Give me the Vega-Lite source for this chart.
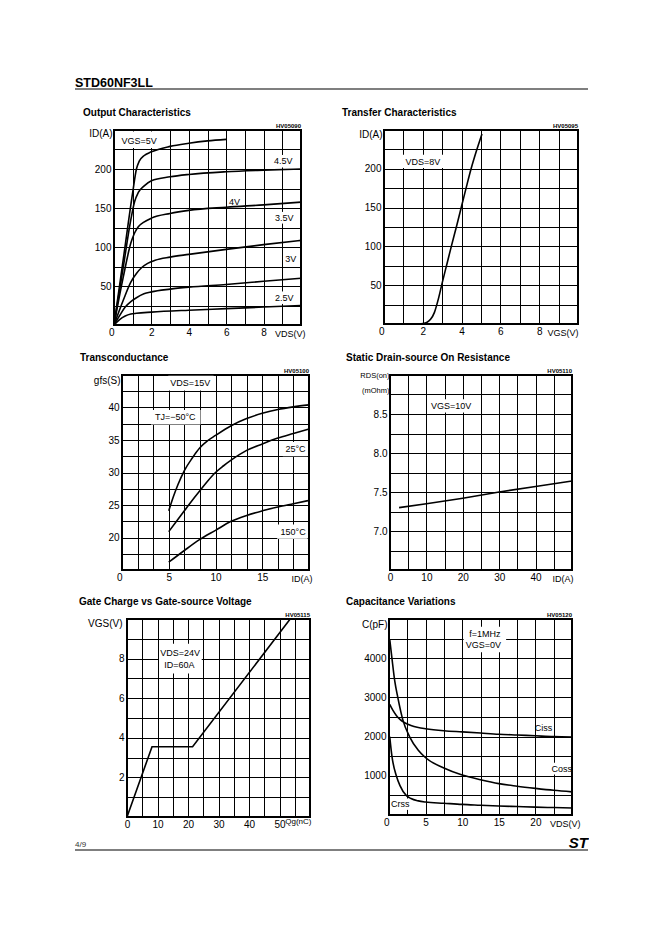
{
  "$schema": "https://vega.github.io/schema/vega-lite/v6.json",
  "padding": {"top": 75, "left": 0, "right": 0, "bottom": 0},
  "background": "white",
  "spacing": 0,
  "bounds": "full",
  "datasets": {
    "hdrRule": [{"x": 0, "x2": 1, "y": 0}],
    "hdrText": [{"x": 0, "y": 0.16, "t": "STD60NF3LL"}],
    "ftrRule": [{"x": 0, "x2": 1, "y": 0}],
    "ftrText": [{"x": 0, "y": 0.2, "t": "4/9"}],
    "ftrLogo": [{"x": 1, "y": 0.15, "t": "ST"}],
    "p1": [
      {"x": 0, "y": 0, "s": "5V"}, {"x": 0.5, "y": 85, "s": "5V"}, {"x": 1, "y": 170, "s": "5V"}, {"x": 1.2, "y": 200, "s": "5V"}, {"x": 1.35, "y": 210, "s": "5V"}, {"x": 1.6, "y": 217, "s": "5V"}, {"x": 2, "y": 222, "s": "5V"}, {"x": 3, "y": 229, "s": "5V"}, {"x": 4, "y": 233, "s": "5V"}, {"x": 5, "y": 236, "s": "5V"}, {"x": 6, "y": 238, "s": "5V"},
      {"x": 0, "y": 0, "s": "4.5V"}, {"x": 0.5, "y": 75, "s": "4.5V"}, {"x": 0.9, "y": 135, "s": "4.5V"}, {"x": 1.1, "y": 158, "s": "4.5V"}, {"x": 1.3, "y": 170, "s": "4.5V"}, {"x": 1.6, "y": 178, "s": "4.5V"}, {"x": 2, "y": 185, "s": "4.5V"}, {"x": 3, "y": 190, "s": "4.5V"}, {"x": 4, "y": 193, "s": "4.5V"}, {"x": 6, "y": 196.5, "s": "4.5V"}, {"x": 8, "y": 198.5, "s": "4.5V"}, {"x": 10, "y": 200, "s": "4.5V"},
      {"x": 0, "y": 0, "s": "4V"}, {"x": 0.5, "y": 62, "s": "4V"}, {"x": 0.9, "y": 105, "s": "4V"}, {"x": 1.1, "y": 118, "s": "4V"}, {"x": 1.3, "y": 126, "s": "4V"}, {"x": 1.6, "y": 132, "s": "4V"}, {"x": 2, "y": 137, "s": "4V"}, {"x": 3, "y": 143, "s": "4V"}, {"x": 4, "y": 147, "s": "4V"}, {"x": 6, "y": 151, "s": "4V"}, {"x": 8, "y": 154, "s": "4V"}, {"x": 10, "y": 157.5, "s": "4V"},
      {"x": 0, "y": 0, "s": "3.5V"}, {"x": 0.5, "y": 32, "s": "3.5V"}, {"x": 0.9, "y": 55, "s": "3.5V"}, {"x": 1.2, "y": 66, "s": "3.5V"}, {"x": 1.5, "y": 74, "s": "3.5V"}, {"x": 1.8, "y": 79, "s": "3.5V"}, {"x": 2.2, "y": 83, "s": "3.5V"}, {"x": 3, "y": 87, "s": "3.5V"}, {"x": 4, "y": 90.5, "s": "3.5V"}, {"x": 6, "y": 97, "s": "3.5V"}, {"x": 8, "y": 103, "s": "3.5V"}, {"x": 10, "y": 108.5, "s": "3.5V"},
      {"x": 0, "y": 0, "s": "3V"}, {"x": 0.3, "y": 12, "s": "3V"}, {"x": 0.6, "y": 23, "s": "3V"}, {"x": 0.9, "y": 30, "s": "3V"}, {"x": 1.2, "y": 35, "s": "3V"}, {"x": 1.6, "y": 40, "s": "3V"}, {"x": 2, "y": 42.5, "s": "3V"}, {"x": 3, "y": 46, "s": "3V"}, {"x": 4, "y": 48.5, "s": "3V"}, {"x": 6, "y": 52, "s": "3V"}, {"x": 8, "y": 56, "s": "3V"}, {"x": 10, "y": 60, "s": "3V"},
      {"x": 0, "y": 0, "s": "2.5V"}, {"x": 0.3, "y": 7, "s": "2.5V"}, {"x": 0.6, "y": 11.5, "s": "2.5V"}, {"x": 0.9, "y": 14, "s": "2.5V"}, {"x": 1.2, "y": 15, "s": "2.5V"}, {"x": 2, "y": 16.5, "s": "2.5V"}, {"x": 4, "y": 19, "s": "2.5V"}, {"x": 6, "y": 21, "s": "2.5V"}, {"x": 8, "y": 23, "s": "2.5V"}, {"x": 10, "y": 25, "s": "2.5V"}
    ],
    "p1mask": [
      {"x": 0.15, "x2": 2.9, "y": 227, "y2": 248},
      {"x": 8.4, "x2": 9.7, "y": 202, "y2": 218},
      {"x": 6.1, "x2": 6.8, "y": 153, "y2": 165},
      {"x": 8.45, "x2": 9.75, "y": 130, "y2": 145},
      {"x": 9.1, "x2": 9.85, "y": 76, "y2": 92},
      {"x": 8.45, "x2": 9.75, "y": 27, "y2": 43}
    ],
    "p1lab": [
      {"x": 1.35, "y": 236, "t": "VGS=5V"},
      {"x": 9.05, "y": 210, "t": "4.5V"},
      {"x": 6.45, "y": 158, "t": "4V"},
      {"x": 9.1, "y": 137.5, "t": "3.5V"},
      {"x": 9.45, "y": 84, "t": "3V"},
      {"x": 9.1, "y": 35, "t": "2.5V"}
    ],
    "p1hv": [{"x": 10, "y": 250, "t": "HV05090"}],
    "p2": [
      {"x": 1.8, "y": 0}, {"x": 2, "y": 0.5}, {"x": 2.2, "y": 2}, {"x": 2.4, "y": 6}, {"x": 2.6, "y": 15}, {"x": 2.8, "y": 32}, {"x": 3, "y": 53}, {"x": 3.25, "y": 78}, {"x": 3.5, "y": 103}, {"x": 3.75, "y": 127}, {"x": 4, "y": 152}, {"x": 4.25, "y": 177}, {"x": 4.5, "y": 201}, {"x": 4.75, "y": 222}, {"x": 5.05, "y": 245}
    ],
    "p2mask": [{"x": 0.9, "x2": 3.05, "y": 201, "y2": 218}],
    "p2lab": [{"x": 2.0, "y": 209, "t": "VDS=8V"}],
    "p2hv": [{"x": 10, "y": 250, "t": "HV05095"}],
    "p3": [
      {"x": 5, "y": 24.1, "s": "-50"}, {"x": 5.5, "y": 26.3, "s": "-50"}, {"x": 6, "y": 28.2, "s": "-50"}, {"x": 6.67, "y": 30.3, "s": "-50"}, {"x": 7.5, "y": 32.2, "s": "-50"}, {"x": 8.33, "y": 33.8, "s": "-50"}, {"x": 9.17, "y": 34.9, "s": "-50"}, {"x": 10, "y": 35.7, "s": "-50"}, {"x": 11.67, "y": 37.2, "s": "-50"}, {"x": 13.33, "y": 38.3, "s": "-50"}, {"x": 15, "y": 39.1, "s": "-50"}, {"x": 16.67, "y": 39.7, "s": "-50"}, {"x": 18.33, "y": 40.1, "s": "-50"}, {"x": 20, "y": 40.4, "s": "-50"},
      {"x": 5, "y": 20.9, "s": "25"}, {"x": 5.83, "y": 22.5, "s": "25"}, {"x": 6.67, "y": 24.1, "s": "25"}, {"x": 7.5, "y": 25.7, "s": "25"}, {"x": 8.33, "y": 27.2, "s": "25"}, {"x": 9.17, "y": 28.7, "s": "25"}, {"x": 10, "y": 30, "s": "25"}, {"x": 10.83, "y": 31, "s": "25"}, {"x": 11.67, "y": 31.9, "s": "25"}, {"x": 13.33, "y": 33.4, "s": "25"}, {"x": 15, "y": 34.4, "s": "25"}, {"x": 16.67, "y": 35.3, "s": "25"}, {"x": 18.33, "y": 36, "s": "25"}, {"x": 20, "y": 36.7, "s": "25"},
      {"x": 5, "y": 16.2, "s": "150"}, {"x": 6.67, "y": 18, "s": "150"}, {"x": 8.33, "y": 19.7, "s": "150"}, {"x": 10, "y": 21.1, "s": "150"}, {"x": 11.67, "y": 22.5, "s": "150"}, {"x": 13.33, "y": 23.4, "s": "150"}, {"x": 15, "y": 24.1, "s": "150"}, {"x": 16.67, "y": 24.7, "s": "150"}, {"x": 18.33, "y": 25.2, "s": "150"}, {"x": 20, "y": 25.7, "s": "150"}
    ],
    "p3mask": [
      {"x": 4.95, "x2": 9.8, "y": 42.6, "y2": 44.9},
      {"x": 3.1, "x2": 8.4, "y": 37.4, "y2": 39.6},
      {"x": 17.2, "x2": 19.85, "y": 32.5, "y2": 34.7},
      {"x": 16.6, "x2": 19.85, "y": 19.8, "y2": 22.0}
    ],
    "p3lab": [
      {"x": 7.3, "y": 43.8, "t": "VDS=15V"},
      {"x": 5.7, "y": 38.5, "t": "TJ=−50°C"},
      {"x": 18.55, "y": 33.6, "t": "25°C"},
      {"x": 18.3, "y": 20.9, "t": "150°C"}
    ],
    "p3hv": [{"x": 20, "y": 45, "t": "HV05100"}],
    "p4": [
      {"x": 2.5, "y": 7.3}, {"x": 10, "y": 7.35}, {"x": 20, "y": 7.42}, {"x": 30, "y": 7.5}, {"x": 40, "y": 7.57}, {"x": 50, "y": 7.64}
    ],
    "p4mask": [{"x": 11, "x2": 22.6, "y": 8.52, "y2": 8.69}],
    "p4lab": [{"x": 16.8, "y": 8.6, "t": "VGS=10V"}],
    "p4hv": [{"x": 50, "y": 9, "t": "HV05110"}],
    "p5": [
      {"x": 0, "y": 0}, {"x": 8.2, "y": 3.55}, {"x": 21.5, "y": 3.55}, {"x": 53.5, "y": 10}
    ],
    "p5mask": [{"x": 10.5, "x2": 24.5, "y": 7.25, "y2": 8.75}],
    "p5lab": [{"x": 17.4, "y": 8.28, "t": "VDS=24V"}, {"x": 17.2, "y": 7.68, "t": "ID=60A"}],
    "p5hv": [{"x": 60, "y": 10, "t": "HV05115"}],
    "p6": [
      {"x": 0.1, "y": 2820, "s": "Ciss"}, {"x": 0.5, "y": 2680, "s": "Ciss"}, {"x": 1, "y": 2540, "s": "Ciss"}, {"x": 1.5, "y": 2440, "s": "Ciss"}, {"x": 2, "y": 2370, "s": "Ciss"}, {"x": 2.5, "y": 2320, "s": "Ciss"}, {"x": 3, "y": 2280, "s": "Ciss"}, {"x": 4, "y": 2230, "s": "Ciss"}, {"x": 5, "y": 2200, "s": "Ciss"}, {"x": 7.5, "y": 2150, "s": "Ciss"}, {"x": 10, "y": 2120, "s": "Ciss"}, {"x": 12.5, "y": 2090, "s": "Ciss"}, {"x": 15, "y": 2060, "s": "Ciss"}, {"x": 17.5, "y": 2040, "s": "Ciss"}, {"x": 20, "y": 2020, "s": "Ciss"}, {"x": 22.5, "y": 2000, "s": "Ciss"}, {"x": 25, "y": 1990, "s": "Ciss"},
      {"x": 0.1, "y": 4480, "s": "Coss"}, {"x": 0.4, "y": 4000, "s": "Coss"}, {"x": 0.8, "y": 3400, "s": "Coss"}, {"x": 1.2, "y": 3000, "s": "Coss"}, {"x": 1.9, "y": 2420, "s": "Coss"}, {"x": 2.8, "y": 2000, "s": "Coss"}, {"x": 4, "y": 1650, "s": "Coss"}, {"x": 5, "y": 1460, "s": "Coss"}, {"x": 7.5, "y": 1200, "s": "Coss"}, {"x": 10, "y": 1020, "s": "Coss"}, {"x": 12.5, "y": 900, "s": "Coss"}, {"x": 15, "y": 800, "s": "Coss"}, {"x": 17.5, "y": 735, "s": "Coss"}, {"x": 20, "y": 680, "s": "Coss"}, {"x": 22.5, "y": 630, "s": "Coss"}, {"x": 25, "y": 590, "s": "Coss"},
      {"x": 0.1, "y": 2000, "s": "Crss"}, {"x": 0.4, "y": 1500, "s": "Crss"}, {"x": 1, "y": 1000, "s": "Crss"}, {"x": 1.5, "y": 750, "s": "Crss"}, {"x": 2.35, "y": 500, "s": "Crss"}, {"x": 3, "y": 420, "s": "Crss"}, {"x": 4, "y": 360, "s": "Crss"}, {"x": 5, "y": 330, "s": "Crss"}, {"x": 7.5, "y": 300, "s": "Crss"}, {"x": 10, "y": 270, "s": "Crss"}, {"x": 12.5, "y": 250, "s": "Crss"}, {"x": 15, "y": 230, "s": "Crss"}, {"x": 17.5, "y": 215, "s": "Crss"}, {"x": 20, "y": 200, "s": "Crss"}, {"x": 22.5, "y": 190, "s": "Crss"}, {"x": 25, "y": 180, "s": "Crss"}
    ],
    "p6mask": [
      {"x": 10.2, "x2": 16.0, "y": 4150, "y2": 4800},
      {"x": 20.3, "x2": 22.0, "y": 2100, "y2": 2380},
      {"x": 22.4, "x2": 24.8, "y": 1030, "y2": 1330},
      {"x": 0.5, "x2": 2.6, "y": 130, "y2": 420}
    ],
    "p6lab": [
      {"x": 13.1, "y": 4608, "t": "f=1MHz"},
      {"x": 12.9, "y": 4339, "t": "VGS=0V"},
      {"x": 21.1, "y": 2230, "t": "Ciss"},
      {"x": 23.6, "y": 1180, "t": "Coss"},
      {"x": 1.55, "y": 270, "t": "Crss"}
    ],
    "p6hv": [{"x": 25, "y": 5000, "t": "HV05120"}]
  },
  "vconcat": [
    {
      "spacing": 0, "bounds": "flush",
      "hconcat": [
        {"width": 75, "height": 32, "data": {"values": []}, "mark": "point"},
        {
          "width": 513, "height": 14,
          "encoding": {
            "x": {"field": "x", "type": "quantitative", "scale": {"domain": [0, 1]}, "axis": null},
            "y": {"field": "y", "type": "quantitative", "scale": {"domain": [0, 1]}, "axis": null}
          },
          "layer": [
            {"data": {"name": "hdrRule"}, "mark": {"type": "rule", "strokeWidth": 1.2, "color": "#000"}, "encoding": {"x2": {"field": "x2"}}},
            {"data": {"name": "hdrText"}, "mark": {"type": "text", "align": "left", "baseline": "alphabetic", "fontSize": 12.5, "fontWeight": "bold"}, "encoding": {"text": {"field": "t"}}}
          ]
        }
      ]
    },
    {
      "spacing": 0, "bounds": "flush",
      "hconcat": [
        {"width": 114, "height": 222, "data": {"values": []}, "mark": "point"},
        {
          "width": 187, "height": 195,
          "view": {"stroke": "#000", "strokeWidth": 2},
          "title": {"text": "Output Characteristics", "dx": -31},
          "encoding": {
            "x": {"field": "x", "type": "quantitative", "scale": {"domain": [0, 10], "nice": false, "zero": false},
              "axis": {"values": [0, 1, 2, 3, 4, 5, 6, 7, 8, 9, 10], "labelExpr": "(datum.value % 2 == 0 && datum.value < 10) ? datum.label : ''", "labelAlign": {"condition": {"test": "datum.value == 0", "value": "right"}, "value": "center"}, "title": "VDS(V)", "titleX": 191}},
            "y": {"field": "y", "type": "quantitative", "scale": {"domain": [0, 250], "nice": false, "zero": false},
              "axis": {"values": [0, 25, 50, 75, 100, 125, 150, 175, 200, 225, 250], "labelExpr": "(datum.value % 50 == 0 && datum.value > 0 && datum.value < 250) ? datum.label : ''", "title": "ID(A)", "titleY": 3}}
          },
          "layer": [
            {"data": {"name": "p1mask"}, "mark": {"type": "rect", "fill": "white"}, "encoding": {"x2": {"field": "x2"}, "y2": {"field": "y2"}}},
            {"data": {"name": "p1"}, "mark": {"type": "line"}, "encoding": {"detail": {"field": "s", "type": "nominal"}}},
            {"data": {"name": "p1lab"}, "mark": {"type": "text", "fontSize": 9}, "encoding": {"text": {"field": "t"}}},
            {"data": {"name": "p1hv"}, "mark": {"type": "text", "align": "right", "baseline": "bottom", "dy": -1, "fontSize": 6, "fontWeight": "bold"}, "encoding": {"text": {"field": "t"}}}
          ]
        },
        {"width": 83, "height": 1, "data": {"values": []}, "mark": "point"},
        {
          "width": 194, "height": 194,
          "view": {"stroke": "#000", "strokeWidth": 2},
          "title": {"text": "Transfer Characteristics", "dx": -42},
          "encoding": {
            "x": {"field": "x", "type": "quantitative", "scale": {"domain": [0, 10], "nice": false, "zero": false},
              "axis": {"values": [0, 1, 2, 3, 4, 5, 6, 7, 8, 9, 10], "labelExpr": "(datum.value % 2 == 0 && datum.value < 10) ? datum.label : ''", "labelAlign": {"condition": {"test": "datum.value == 0", "value": "right"}, "value": "center"}, "title": "VGS(V)", "titleX": 194}},
            "y": {"field": "y", "type": "quantitative", "scale": {"domain": [0, 250], "nice": false, "zero": false},
              "axis": {"values": [0, 25, 50, 75, 100, 125, 150, 175, 200, 225, 250], "labelExpr": "(datum.value % 50 == 0 && datum.value > 0 && datum.value < 250) ? datum.label : ''", "title": "ID(A)", "titleY": 4}}
          },
          "layer": [
            {"data": {"name": "p2mask"}, "mark": {"type": "rect", "fill": "white"}, "encoding": {"x2": {"field": "x2"}, "y2": {"field": "y2"}}},
            {"data": {"name": "p2"}, "mark": {"type": "line"}, "encoding": {}},
            {"data": {"name": "p2lab"}, "mark": {"type": "text", "fontSize": 9}, "encoding": {"text": {"field": "t"}}},
            {"data": {"name": "p2hv"}, "mark": {"type": "text", "align": "right", "baseline": "bottom", "dy": -1, "fontSize": 6, "fontWeight": "bold"}, "encoding": {"text": {"field": "t"}}}
          ]
        }
      ]
    },
    {
      "spacing": 0, "bounds": "flush",
      "hconcat": [
        {"width": 122, "height": 221, "data": {"values": []}, "mark": "point"},
        {
          "width": 187, "height": 195,
          "view": {"stroke": "#000", "strokeWidth": 2},
          "title": {"text": "Transconductance", "dx": -42},
          "encoding": {
            "x": {"field": "x", "type": "quantitative", "scale": {"domain": [0, 20], "nice": false, "zero": false},
              "axis": {"values": [0, 1.6667, 3.3333, 5, 6.6667, 8.3333, 10, 11.6667, 13.3333, 15, 16.6667, 18.3333, 20], "labelExpr": "(datum.value == 0 || datum.value == 5 || datum.value == 10 || datum.value == 15) ? datum.label : ''", "labelAlign": {"condition": {"test": "datum.value == 0", "value": "right"}, "value": "center"}, "title": "ID(A)", "titleX": 190}},
            "y": {"field": "y", "type": "quantitative", "scale": {"domain": [15, 45], "nice": false, "zero": false},
              "axis": {"values": [15, 17.5, 20, 22.5, 25, 27.5, 30, 32.5, 35, 37.5, 40, 42.5, 45], "labelExpr": "(datum.value % 5 == 0 && datum.value > 16 && datum.value < 44) ? datum.label : ''", "title": "gfs(S)", "titleY": 5}}
          },
          "layer": [
            {"data": {"name": "p3mask"}, "mark": {"type": "rect", "fill": "white"}, "encoding": {"x2": {"field": "x2"}, "y2": {"field": "y2"}}},
            {"data": {"name": "p3"}, "mark": {"type": "line"}, "encoding": {"detail": {"field": "s", "type": "nominal"}}},
            {"data": {"name": "p3lab"}, "mark": {"type": "text", "fontSize": 9}, "encoding": {"text": {"field": "t"}}},
            {"data": {"name": "p3hv"}, "mark": {"type": "text", "align": "right", "baseline": "bottom", "dy": -1, "fontSize": 6, "fontWeight": "bold"}, "encoding": {"text": {"field": "t"}}}
          ]
        },
        {"width": 81, "height": 1, "data": {"values": []}, "mark": "point"},
        {
          "width": 182, "height": 195,
          "view": {"stroke": "#000", "strokeWidth": 2},
          "title": {"text": "Static Drain-source On Resistance", "dx": -44},
          "encoding": {
            "x": {"field": "x", "type": "quantitative", "scale": {"domain": [0, 50], "nice": false, "zero": false},
              "axis": {"values": [0, 5, 10, 15, 20, 25, 30, 35, 40, 45, 50], "labelExpr": "(datum.value % 10 == 0 && datum.value < 45) ? datum.label : ''", "title": "ID(A)", "titleX": 183}},
            "y": {"field": "y", "type": "quantitative", "scale": {"domain": [6.5, 9], "nice": false, "zero": false},
              "axis": {"values": [6.5, 6.75, 7, 7.25, 7.5, 7.75, 8, 8.25, 8.5, 8.75, 9], "labelExpr": "(datum.value == 7 || datum.value == 7.5 || datum.value == 8 || datum.value == 8.5) ? format(datum.value, '.1f') : ''", "title": ["RDS(on)", "(mOhm)"], "titleFontSize": 7.5, "titleLineHeight": 15, "titleBaseline": "top", "titleY": -4, "titleX": -1}}
          },
          "layer": [
            {"data": {"name": "p4mask"}, "mark": {"type": "rect", "fill": "white"}, "encoding": {"x2": {"field": "x2"}, "y2": {"field": "y2"}}},
            {"data": {"name": "p4"}, "mark": {"type": "line", "interpolate": "linear"}, "encoding": {}},
            {"data": {"name": "p4lab"}, "mark": {"type": "text", "fontSize": 9}, "encoding": {"text": {"field": "t"}}},
            {"data": {"name": "p4hv"}, "mark": {"type": "text", "align": "right", "baseline": "bottom", "dy": -1, "fontSize": 6, "fontWeight": "bold"}, "encoding": {"text": {"field": "t"}}}
          ]
        }
      ]
    },
    {
      "spacing": 0, "bounds": "flush",
      "hconcat": [
        {"width": 127, "height": 216, "data": {"values": []}, "mark": "point"},
        {
          "width": 183, "height": 198,
          "view": {"stroke": "#000", "strokeWidth": 2},
          "title": {"text": "Gate Charge vs Gate-source Voltage", "dx": -48},
          "encoding": {
            "x": {"field": "x", "type": "quantitative", "scale": {"domain": [0, 60], "nice": false, "zero": false},
              "axis": {"values": [0, 5, 10, 15, 20, 25, 30, 35, 40, 45, 50, 55, 60], "labelExpr": "(datum.value % 10 == 0 && datum.value < 55) ? datum.label : ''", "title": "Qg(nC)", "titleFontSize": 8, "titleX": 184, "titleY": 4}},
            "y": {"field": "y", "type": "quantitative", "scale": {"domain": [0, 10], "nice": false, "zero": false},
              "axis": {"values": [0, 1, 2, 3, 4, 5, 6, 7, 8, 9, 10], "labelExpr": "(datum.value % 2 == 0 && datum.value > 0 && datum.value < 10) ? datum.label : ''", "title": "VGS(V)", "titleY": 4, "titleX": -5}}
          },
          "layer": [
            {"data": {"name": "p5mask"}, "mark": {"type": "rect", "fill": "white"}, "encoding": {"x2": {"field": "x2"}, "y2": {"field": "y2"}}},
            {"data": {"name": "p5"}, "mark": {"type": "line", "interpolate": "linear"}, "encoding": {}},
            {"data": {"name": "p5lab"}, "mark": {"type": "text", "fontSize": 9}, "encoding": {"text": {"field": "t"}}},
            {"data": {"name": "p5hv"}, "mark": {"type": "text", "align": "right", "baseline": "bottom", "dy": -1, "fontSize": 6, "fontWeight": "bold"}, "encoding": {"text": {"field": "t"}}}
          ]
        },
        {"width": 79, "height": 1, "data": {"values": []}, "mark": "point"},
        {
          "width": 183, "height": 196,
          "view": {"stroke": "#000", "strokeWidth": 2},
          "title": {"text": "Capacitance Variations", "dx": -43},
          "encoding": {
            "x": {"field": "x", "type": "quantitative", "scale": {"domain": [0, 25], "nice": false, "zero": false},
              "axis": {"values": [0, 2.5, 5, 7.5, 10, 12.5, 15, 17.5, 20, 22.5, 25], "labelExpr": "(datum.value % 5 == 0 && datum.value < 24) ? datum.label : ''", "labelAlign": {"condition": {"test": "datum.value == 0", "value": "right"}, "value": "center"}, "title": "VDS(V)", "titleX": 191}},
            "y": {"field": "y", "type": "quantitative", "scale": {"domain": [0, 5000], "nice": false, "zero": false},
              "axis": {"values": [0, 500, 1000, 1500, 2000, 2500, 3000, 3500, 4000, 4500, 5000], "labelExpr": "(datum.value % 1000 == 0 && datum.value > 0 && datum.value < 5000) ? format(datum.value, 'd') : ''", "title": "C(pF)", "titleY": 5}}
          },
          "layer": [
            {"data": {"name": "p6mask"}, "mark": {"type": "rect", "fill": "white"}, "encoding": {"x2": {"field": "x2"}, "y2": {"field": "y2"}}},
            {"data": {"name": "p6"}, "mark": {"type": "line"}, "encoding": {"detail": {"field": "s", "type": "nominal"}}},
            {"data": {"name": "p6lab"}, "mark": {"type": "text", "fontSize": 9}, "encoding": {"text": {"field": "t"}}},
            {"data": {"name": "p6hv"}, "mark": {"type": "text", "align": "right", "baseline": "bottom", "dy": -1, "fontSize": 6, "fontWeight": "bold"}, "encoding": {"text": {"field": "t"}}}
          ]
        }
      ]
    },
    {
      "spacing": 0, "bounds": "flush",
      "hconcat": [
        {"width": 75, "height": 14, "data": {"values": []}, "mark": "point"},
        {
          "width": 513, "height": 14,
          "encoding": {
            "x": {"field": "x", "type": "quantitative", "scale": {"domain": [0, 1]}, "axis": null},
            "y": {"field": "y", "type": "quantitative", "scale": {"domain": [0, 1]}, "axis": null}
          },
          "layer": [
            {"data": {"name": "ftrRule"}, "mark": {"type": "rule", "strokeWidth": 1.2, "color": "#000"}, "encoding": {"x2": {"field": "x2"}}},
            {"data": {"name": "ftrText"}, "mark": {"type": "text", "align": "left", "baseline": "alphabetic", "fontSize": 8, "color": "#333"}, "encoding": {"text": {"field": "t"}}},
            {"data": {"name": "ftrLogo"}, "mark": {"type": "text", "align": "right", "baseline": "alphabetic", "fontSize": 15, "fontWeight": "bold", "fontStyle": "italic"}, "encoding": {"text": {"field": "t"}}}
          ]
        }
      ]
    }
  ],
  "config": {
    "font": "Liberation Sans",
    "view": {"stroke": null},
    "axis": {
      "grid": true, "gridColor": "#000", "gridOpacity": 1, "gridWidth": 1,
      "domain": false, "ticks": false,
      "labelFont": "Liberation Sans", "labelFontSize": 10, "labelColor": "#000",
      "labelOverlap": false, "labelFlush": false, "labelBound": false,
      "titleFont": "Liberation Sans", "titleFontSize": 10, "titleFontWeight": "normal", "titleColor": "#000"
    },
    "axisX": {"labelPadding": 2, "titleAngle": 0, "titleAlign": "right", "titleBaseline": "middle", "titleY": 8, "titleFontSize": 9},
    "axisY": {"labelPadding": 3, "titleAngle": 0, "titleAlign": "right", "titleBaseline": "middle", "titleX": -2},
    "title": {"anchor": "start", "frame": "group", "fontSize": 10, "fontWeight": "bold", "font": "Liberation Sans", "color": "#000", "baseline": "bottom", "offset": 5},
    "text": {"font": "Liberation Sans", "color": "#000"},
    "line": {"color": "#000", "strokeWidth": 1.6, "interpolate": "monotone"}
  }
}
